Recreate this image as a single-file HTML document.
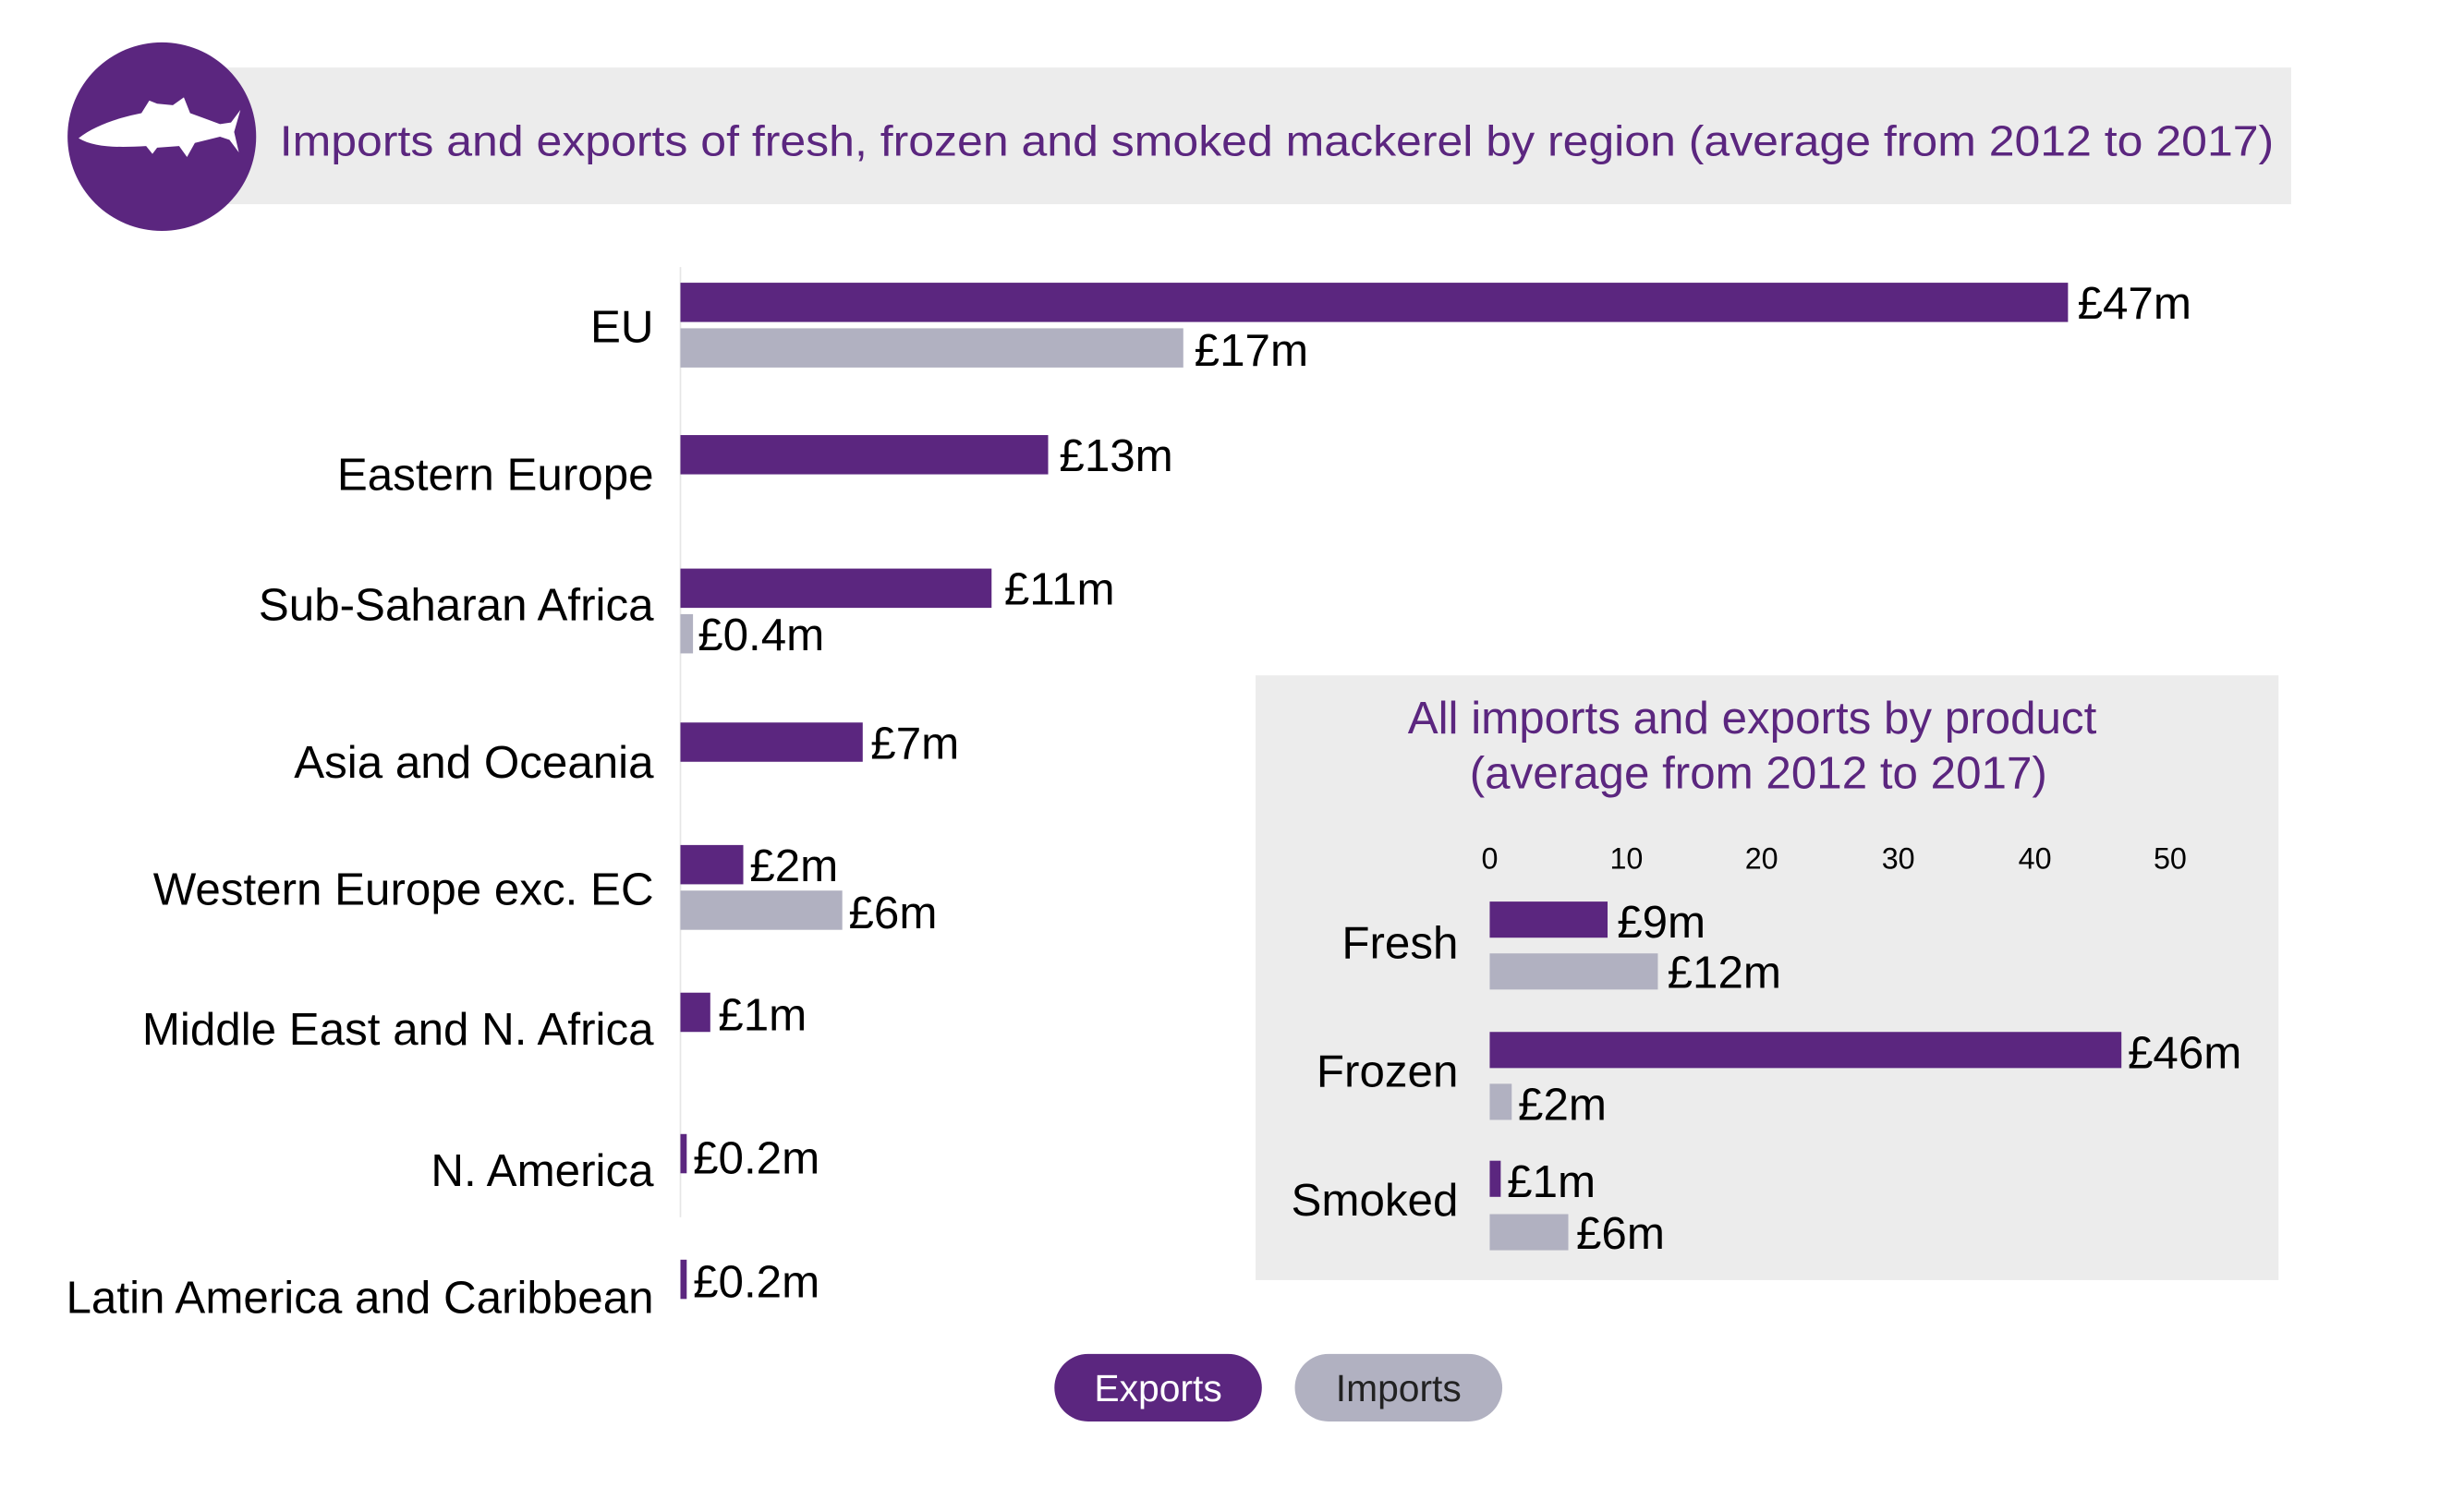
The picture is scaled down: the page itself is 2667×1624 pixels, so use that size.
<!DOCTYPE html>
<html><head><meta charset="utf-8"><style>
html,body{margin:0;padding:0;background:#fff;}
svg{display:block;}
text{font-family:"Liberation Sans",Arial,sans-serif;}
</style></head><body>
<svg width="2667" height="1624" viewBox="0 0 1568 955" preserveAspectRatio="none" xmlns="http://www.w3.org/2000/svg">
<rect x="0" y="0" width="1568" height="955" fill="#fff"/>
<!-- banner -->
<rect x="140" y="43" width="1318" height="87" fill="#ececec"/>
<ellipse cx="103" cy="87" rx="60" ry="60" fill="#5b267f"/>
<path d="M50,88 C60,80 75,75 90,72 L95,64 L100,66 L110,67 L117,62 L121,72 L140,79 L147,78 L153,70 L149,84 L152,97 L146,89 L140,87 L124,91 L119,100 L114,93 L100,94 L97,98 L93,93 C75,94 60,94 50,88 Z" fill="#fff"/>
<text x="178" y="99" font-size="27" fill="#5b267f" textLength="1269" lengthAdjust="spacingAndGlyphs">Imports and exports of fresh, frozen and smoked mackerel by region (average from 2012 to 2017)</text>

<!-- main axis -->
<line x1="433" y1="170" x2="433" y2="775" stroke="#e6e6e6" stroke-width="1"/>
<g fill="#5b267f">
<rect x="433" y="180" width="883" height="25"/>
<rect x="433" y="277" width="234" height="25"/>
<rect x="433" y="362" width="198" height="25"/>
<rect x="433" y="460" width="116" height="25"/>
<rect x="433" y="538" width="40" height="25"/>
<rect x="433" y="632" width="19" height="25"/>
<rect x="433" y="722" width="4" height="25"/>
<rect x="433" y="802" width="4" height="25"/>
</g>
<g fill="#b1b1c1">
<rect x="433" y="209" width="320" height="25"/>
<rect x="433" y="391" width="8" height="25"/>
<rect x="433" y="567" width="103" height="25"/>
</g>
<g font-size="29" fill="#000">
<text x="1322" y="203">£47m</text>
<text x="760" y="233">£17m</text>
<text x="674" y="300">£13m</text>
<text x="639" y="385">£11m</text>
<text x="444" y="414">£0.4m</text>
<text x="554" y="483">£7m</text>
<text x="477" y="561">£2m</text>
<text x="540" y="591">£6m</text>
<text x="457" y="656">£1m</text>
<text x="441" y="747">£0.2m</text>
<text x="441" y="826">£0.2m</text>
</g>
<g font-size="29" fill="#000" text-anchor="end">
<text x="416" y="218">EU</text>
<text x="416" y="312">Eastern Europe</text>
<text x="416" y="395">Sub-Saharan Africa</text>
<text x="416" y="495">Asia and Oceania</text>
<text x="416" y="576">Western Europe exc. EC</text>
<text x="416" y="665">Middle East and N. Africa</text>
<text x="416" y="755">N. America</text>
<text x="416" y="836">Latin America and Caribbean</text>
</g>

<!-- inset -->
<rect x="799" y="430" width="651" height="385" fill="#ececec"/>
<g font-size="29" fill="#5b267f" text-anchor="middle">
<text x="1115" y="467">All imports and exports by product</text>
<text x="1119" y="502">(average from 2012 to 2017)</text>
</g>
<g font-size="19" fill="#000" text-anchor="middle">
<text x="948" y="553">0</text>
<text x="1035" y="553">10</text>
<text x="1121" y="553">20</text>
<text x="1208" y="553">30</text>
<text x="1295" y="553">40</text>
<text x="1381" y="553">50</text>
</g>
<g fill="#5b267f">
<rect x="948" y="574" width="75" height="23"/>
<rect x="948" y="657" width="402" height="23"/>
<rect x="948" y="739" width="7" height="23"/>
</g>
<g fill="#b1b1c1">
<rect x="948" y="607" width="107" height="23"/>
<rect x="948" y="690" width="14" height="23"/>
<rect x="948" y="773" width="50" height="23"/>
</g>
<g font-size="29" fill="#000">
<text x="1029" y="597">£9m</text>
<text x="1061" y="629">£12m</text>
<text x="1354" y="680">£46m</text>
<text x="966" y="713">£2m</text>
<text x="959" y="762">£1m</text>
<text x="1003" y="795">£6m</text>
</g>
<g font-size="29" fill="#000" text-anchor="end">
<text x="928" y="610">Fresh</text>
<text x="928" y="692">Frozen</text>
<text x="928" y="774">Smoked</text>
</g>

<!-- legend -->
<rect x="671" y="862" width="132" height="43" rx="21.5" fill="#5b267f"/>
<text x="737" y="892" font-size="24" fill="#fff" text-anchor="middle">Exports</text>
<rect x="824" y="862" width="132" height="43" rx="21.5" fill="#b1b1c1"/>
<text x="890" y="892" font-size="24" fill="#222" text-anchor="middle">Imports</text>
</svg>
</body></html>
